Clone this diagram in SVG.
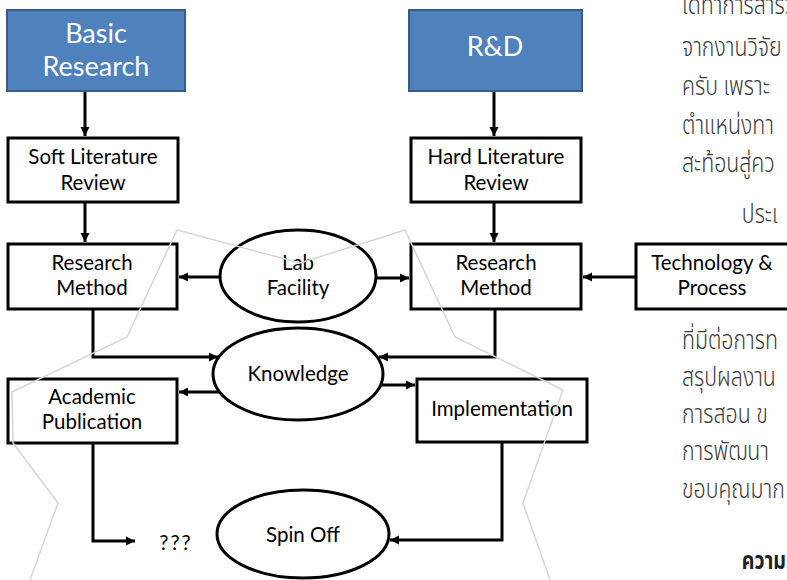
<svg xmlns="http://www.w3.org/2000/svg" width="787" height="580" viewBox="0 0 787 580">
<defs>
<marker id="ah" markerUnits="userSpaceOnUse" markerWidth="10" markerHeight="10" refX="9" refY="5" orient="auto">
<path d="M0,0.5 L9,5 L0,9.5 Z" fill="#000"/>
</marker>
<style>
.box{fill:#fff;stroke:#000;stroke-width:3}
.blue{fill:#4F81BD;stroke:#385D8A;stroke-width:2}
.ell{fill:#fff;stroke:#000;stroke-width:3}
.t{font-family:Lato,"Open Sans","Liberation Sans",sans-serif;font-size:20.5px;fill:#000;text-anchor:middle}
.tb{font-family:Lato,"Open Sans","Liberation Sans",sans-serif;font-size:27px;fill:#fff;text-anchor:middle}
.c{fill:none;stroke:#000;stroke-width:3;marker-end:url(#ah)}
.th{font-family:"Noto Sans Thai","Noto Sans","DejaVu Sans",sans-serif;font-size:26px;font-weight:300;fill:#3a3a3a}
.thb{font-weight:bold;font-size:24px;fill:#222}
.wm{fill:none;stroke:#d6d6d6;stroke-width:1.5}
</style>
</defs>
<rect width="787" height="580" fill="#fff"/>

<g id="thai-text" transform="translate(682,0) scale(0.82,1)">
<text class="th" x="0" y="14">ได้ทำการสำรวจ</text>
<text class="th" x="0" y="56">จากงานวิจัย</text>
<text class="th" x="0" y="95">ครับ เพราะ</text>
<text class="th" x="0" y="134">ตำแหน่งทา</text>
<text class="th" x="0" y="172">สะท้อนสู่คว</text>
<text class="th" x="73" y="223">ประเ</text>
<text class="th" x="0" y="349">ที่มีต่อการท</text>
<text class="th" x="0" y="386">สรุปผลงาน</text>
<text class="th" x="0" y="423">การสอน ข</text>
<text class="th" x="0" y="460">การพัฒนา</text>
<text class="th" x="0" y="498">ขอบคุณมาก</text>
<text class="th thb" x="73" y="569">ความ</text>
</g>

<g id="basic-research">
<rect class="blue" x="7" y="10" width="178" height="81"/>
<text class="tb" x="96" y="43">Basic</text>
<text class="tb" x="96" y="76">Research</text>
</g>
<g id="rnd">
<rect class="blue" x="409" y="10" width="173" height="81"/>
<text class="tb" x="495" y="56">R&amp;D</text>
</g>
<g id="soft-lit">
<rect class="box" x="8" y="138" width="170" height="64"/>
<text class="t" x="93" y="164">Soft Literature</text>
<text class="t" x="93" y="190">Review</text>
</g>
<g id="hard-lit">
<rect class="box" x="411" y="138" width="170" height="64"/>
<text class="t" x="496" y="164">Hard Literature</text>
<text class="t" x="496" y="190">Review</text>
</g>
<g id="rm-left">
<rect class="box" x="8" y="244" width="169" height="65"/>
<text class="t" x="92" y="270">Research</text>
<text class="t" x="92" y="295">Method</text>
</g>
<g id="lab">
<ellipse class="ell" cx="298" cy="276" rx="78" ry="46"/>
<text class="t" x="298" y="270">Lab</text>
<text class="t" x="298" y="295">Facility</text>
</g>
<g id="rm-right">
<rect class="box" x="411" y="244" width="170" height="65"/>
<text class="t" x="496" y="270">Research</text>
<text class="t" x="496" y="295">Method</text>
</g>
<g id="tech">
<rect class="box" x="636" y="244" width="156" height="65"/>
<text class="t" x="712" y="270">Technology &amp;</text>
<text class="t" x="712" y="295">Process</text>
</g>
<g id="knowledge">
<ellipse class="ell" cx="298" cy="374" rx="85" ry="46"/>
<text class="t" x="298" y="381">Knowledge</text>
</g>
<g id="academic">
<rect class="box" x="8" y="379" width="169" height="64"/>
<text class="t" x="92" y="404">Academic</text>
<text class="t" x="92" y="429">Publication</text>
</g>
<g id="implementation">
<rect class="box" x="417" y="379" width="170" height="63"/>
<text class="t" x="502" y="416">Implementation</text>
</g>
<g id="unknown">
<text class="t" x="176" y="550" font-size="22" letter-spacing="2">???</text>
</g>
<g id="spinoff">
<ellipse class="ell" cx="303" cy="534" rx="86" ry="44"/>
<text class="t" x="303" y="542">Spin Off</text>
</g>

<g id="connectors">
<path class="c" d="M85,92 V136"/>
<path class="c" d="M494,92 V136"/>
<path class="c" d="M85,203 V242"/>
<path class="c" d="M494,203 V242"/>
<path class="c" d="M220,277 H179"/>
<path class="c" d="M376,278 H409"/>
<path class="c" d="M635,277 H583"/>
<path class="c" d="M93,310 V357 H218"/>
<path class="c" d="M495,310 V357 H379"/>
<path class="c" d="M220,392 H179"/>
<path class="c" d="M380,385 H415"/>
<path class="c" d="M93,444 V541 H135"/>
<path class="c" d="M502,443 V540 H390"/>
</g>

<g id="watermark">
<polyline class="wm" points="177,230 300,263 405,230"/>
<polyline class="wm" points="177,230 127,337 12,392 13,443 58,503 30,580"/>
<polyline class="wm" points="405,230 455,337 563,390 523,503 550,580"/>
</g>
</svg>
